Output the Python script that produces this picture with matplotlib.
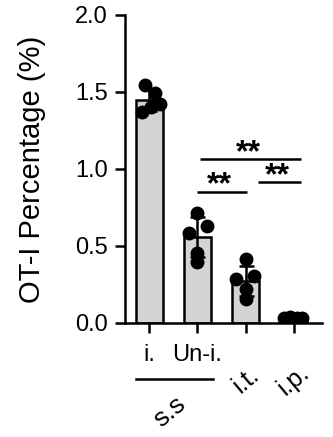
import numpy as np
import matplotlib.pyplot as plt

plt.rcParams['font.family'] = ['Liberation Sans', 'DejaVu Sans']

# data
groups = ['i.', 'Un-i.', 'i.t.', 'i.p.']
group_label = 's.s'
ss_values = [1.545, 1.49, 1.37, 1.40, 1.42]
uni_values = [0.712, 0.586, 0.63, 0.452, 0.398]
it_values = [0.413, 0.283, 0.305, 0.219, 0.154]
ip_values = [0.035, 0.04, 0.03, 0.035, 0.028]
yticks = [0.0, 0.5, 1.0, 1.5, 2.0]
sig_text = '**'

all_values = [ss_values, uni_values, it_values, ip_values]
# horizontal scatter of dots (layout only)
jitter = [[-0.09, 0.11, -0.16, 0.04, 0.22],
          [0.0, -0.17, 0.19, 0.0, 0.0],
          [0.0, -0.19, 0.17, 0.0, 0.0],
          [-0.2, -0.08, 0.06, 0.18, -0.14]]

means = [np.mean(v) for v in all_values]
sds = [np.std(v, ddof=1) for v in all_values]
x = np.arange(len(groups))

fig = plt.figure(figsize=(3.33, 4.37), dpi=100)
ax = fig.add_axes([0.375, 0.261, 0.592, 0.705])

lw = 1.8
ax.bar(x, means, width=0.56, color='#d4d4d4', edgecolor='black', linewidth=lw, zorder=1)
for i, vals in enumerate(all_values):
    ax.plot(x[i] + np.array(jitter[i]), vals, 'o', color='black', markersize=9, zorder=2)
ax.errorbar(x, means, yerr=sds, fmt='none', ecolor='black', elinewidth=lw,
            capsize=5.4, capthick=lw, zorder=3)

# significance bars
sig_y = [1.063, 0.853, 0.913]
sig_x = [(1.05, 3.15), (0.98, 2.02), (2.25, 3.15)]
for (x0, x1), yy in zip(sig_x, sig_y):
    ax.plot([x0, x1], [yy, yy], color='black', lw=lw, solid_capstyle='butt')
    ax.annotate(sig_text, ((x0 + x1) / 2 - 0.04, yy), xytext=(0, -1.5),
                textcoords='offset points', ha='center', va='baseline',
                fontsize=23, fontweight='bold')

ax.set_xlim(-0.51, 3.59)
ax.set_ylim(0, 2.0)
ax.set_yticks(yticks)
ax.set_yticklabels(['%.1f' % t for t in yticks], fontsize=17)
ax.set_ylabel('OT-I Percentage (%)', fontsize=21, labelpad=21)

ax.set_xticks(x)
ax.set_xticklabels([])
ax.tick_params(axis='both', length=7.2, width=lw, pad=5)

for s in ['top', 'right']:
    ax.spines[s].set_visible(False)
for s in ['left', 'bottom']:
    ax.spines[s].set_linewidth(lw)

tr = ax.get_xaxis_transform()
for i in range(2):
    ax.text(x[i], -0.104, groups[i], transform=tr, ha='center', va='center', fontsize=17)
for i in range(2, 4):
    ax.text(x[i], -0.185, groups[i], transform=tr, ha='center', va='center',
            fontsize=18, rotation=40)
ax.plot([-0.28, 1.32], [-0.182, -0.182], transform=tr, color='black', lw=lw,
        clip_on=False)
ax.text(0.43, -0.289, group_label, transform=tr, ha='center', va='center',
        fontsize=19, rotation=40)

fig.savefig('out.png', dpi=100)
